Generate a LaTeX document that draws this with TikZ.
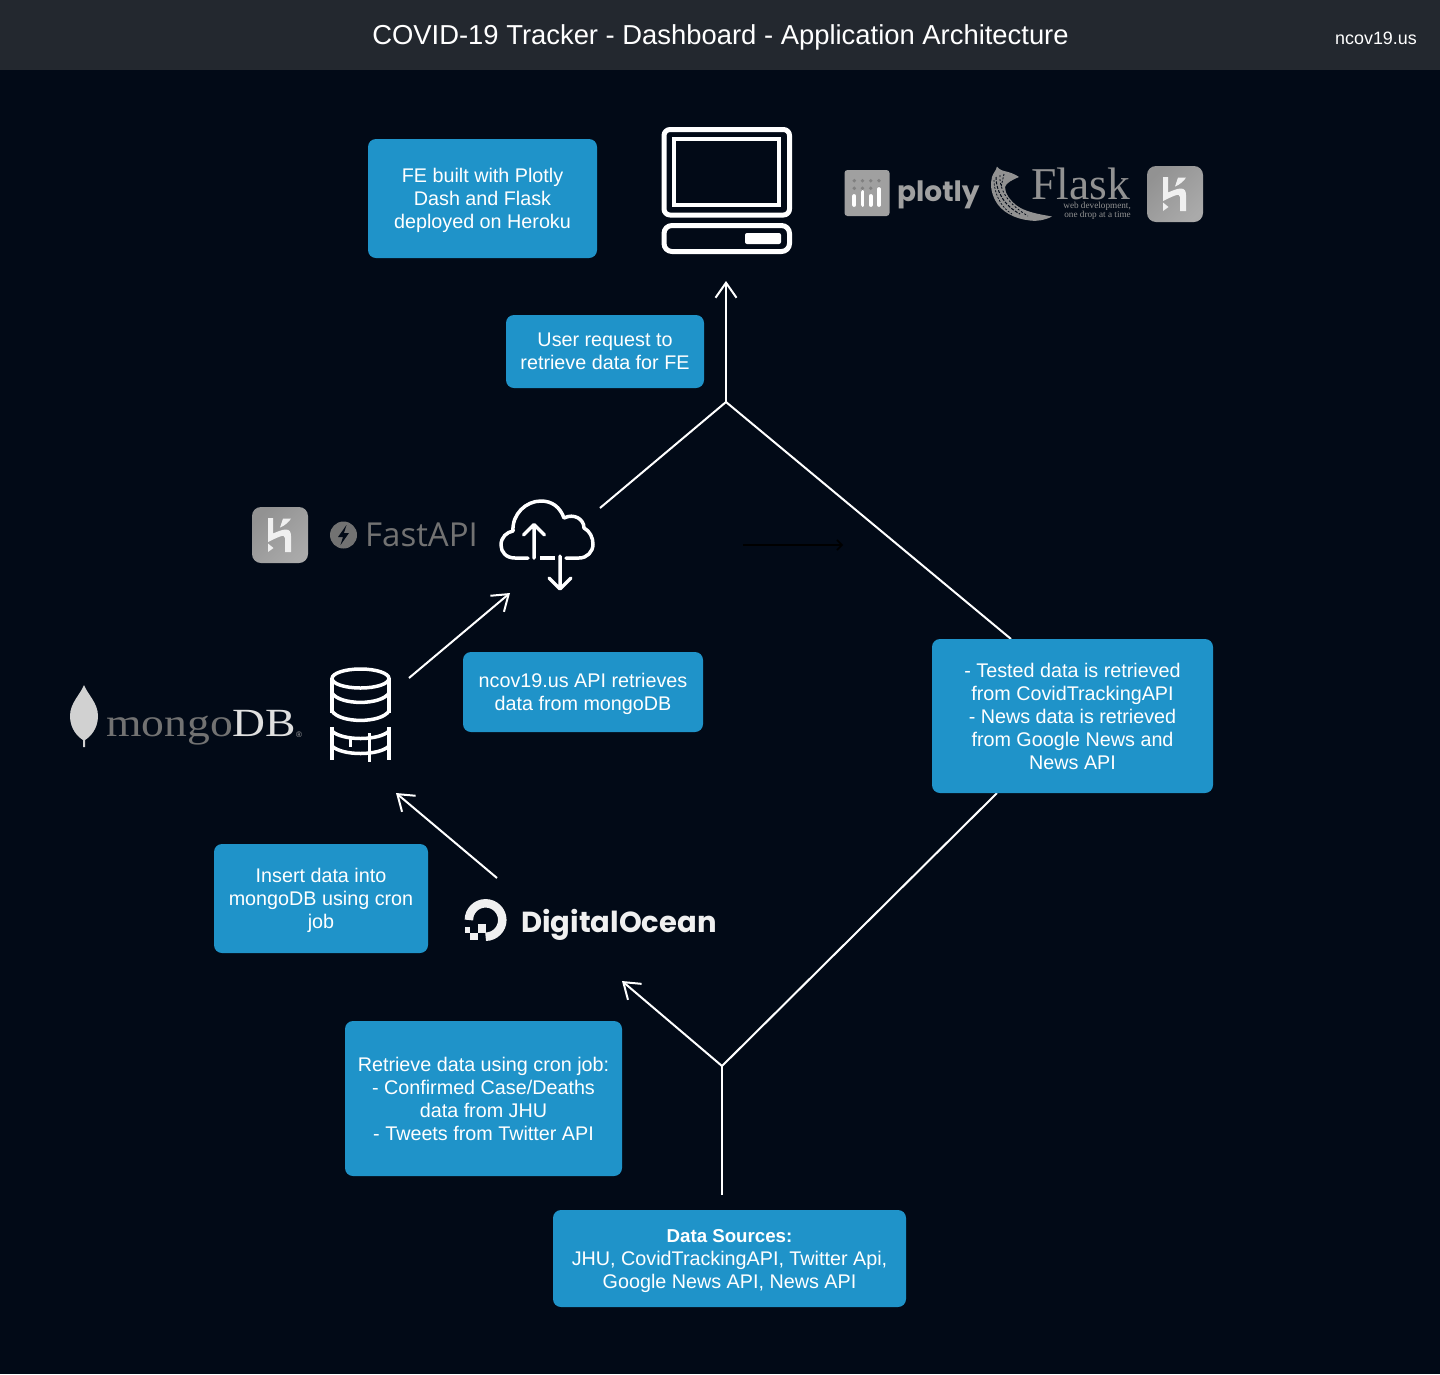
\documentclass[tikz,border=0pt]{standalone}
\usepackage{fontspec}
\setmainfont{Liberation Sans}
\newfontfamily\logoserif{Liberation Serif}
\newfontfamily\mongofont{Liberation Serif}[FakeStretch=1.14]
\newfontfamily\logosans{Open Sans}
\newfontfamily\logopop{Poppins}
\usetikzlibrary{arrows.meta,shapes.geometric}
\definecolor{pagebg}{HTML}{020A17}
\definecolor{headbg}{HTML}{23282F}
\definecolor{boxblue}{HTML}{1F93C9}
\definecolor{logogray}{HTML}{929292}
\definecolor{logosoft}{HTML}{A0A0A0}
\definecolor{logodim}{HTML}{727272}
\tikzset{
  infobox/.style={fill=boxblue,rounded corners=8pt,text=white,align=center,inner sep=0pt,
    font=\fontsize{19.75}{23}\selectfont},
  link/.style={draw=white,line width=2pt},
  arrowlink/.style={link,-{Straight Barb[length=15pt,width=21pt,line width=2pt]}},
  hiddenlink/.style={draw=black,line width=1.5pt,-{Straight Barb[length=5pt,width=10pt,line width=1.5pt]}},
  icon/.style={draw=white,line width=5pt,line join=round},
  thin icon/.style={draw=white,line width=4pt,line cap=butt},
  logotext/.style={inner sep=0pt,anchor=base west},
}
\newcommand{\fl}[1]{\rule{0pt}{\dimexpr14.4pt+#1pt+#1pt\relax}}
\newcommand{\herokulogo}[2]{%
  \begin{scope}[shift={(#1,#2)}]
    \shade[rounded corners=9pt,left color=logogray,right color=logosoft!90!white,shading angle=45]
      (0,0) rectangle (56,56);
    \fill[white!94!black] (16,11) -- (21,11) -- (21,26.5)
      .. controls (26,24.5) and (30,22.5) .. (34,22.5)
      .. controls (37.5,22.5) and (39,25) .. (39,29) -- (39,45) -- (33,45) -- (33,31)
      .. controls (33,28.5) and (31,28.5) .. (28,29.5)
      .. controls (24,31) and (20,33) .. (16,35) -- cycle;
    \fill[white!94!black] (31,11.5) -- (39,11.5) .. controls (37,15) and (33,18.5) .. (28,20.5) -- cycle;
    \fill[white!94!black] (16,36.5) -- (21.5,41) -- (16,45) -- cycle;
  \end{scope}}
\begin{document}
\begin{tikzpicture}[x=1pt,y=-1pt]
\useasboundingbox (0,0) rectangle (1440,1374);
\fill[pagebg] (0,0) rectangle (1440,1374);
\fill[headbg] (0,0) rectangle (1440,70);
\node[text=white,inner sep=0pt,font=\fontsize{27.4}{32}\selectfont] (title) at (720.5,37) {COVID-19 Tracker - Dashboard - Application Architecture};
\node[text=white,inner sep=0pt,font=\fontsize{17.9}{20}\selectfont] (site) at (1376,38) {ncov19.us};

% junctions and free ends
\coordinate (topJoin) at (726,402);
\coordinate (bottomJoin) at (722,1066);
\coordinate (laptopIn) at (726,281);
\coordinate (cloudOut) at (600,508);
\coordinate (cloudIn) at (510,593);
\coordinate (dbOut) at (409,678);
\coordinate (dbIn) at (396,793);
\coordinate (oceanOut) at (497,878);
\coordinate (oceanIn) at (622,981);
\coordinate (sourcesOut) at (722,1195);
\coordinate (testedTop) at (1011,639);
\coordinate (testedBottom) at (997,793);
\coordinate (hiddenStart) at (743,545);
\coordinate (hiddenEnd) at (843,545);

\draw[hiddenlink] (hiddenStart) -- (hiddenEnd);
\draw[arrowlink] (topJoin) -- (laptopIn);
\draw[link] (cloudOut) -- (topJoin);
\draw[link] (topJoin) -- (testedTop);
\draw[link] (testedBottom) -- (bottomJoin);
\draw[link] (sourcesOut) -- (bottomJoin);
\draw[arrowlink] (bottomJoin) -- (oceanIn);
\draw[arrowlink] (oceanOut) -- (dbIn);
\draw[arrowlink] (dbOut) -- (cloudIn);

% boxes
\node[infobox,minimum width=229pt,minimum height=119pt] (fe) at (482.5,198.5) {\fl{1.5}FE built with Plotly\\Dash and Flask\\deployed on Heroku};
\node[infobox,minimum width=198pt,minimum height=73pt] (user) at (605,351.5) {User request to\\retrieve data for FE};
\node[infobox,minimum width=240pt,minimum height=80pt] (api) at (583,692) {\fl{1.5}ncov19.us API retrieves\\data from mongoDB};
\node[infobox,minimum width=281pt,minimum height=154pt] (tested) at (1072.5,716) {- Tested data is retrieved\\from CovidTrackingAPI\\- News data is retrieved\\from Google News and\\News API};
\node[infobox,minimum width=214pt,minimum height=109pt] (insert) at (321,898.5) {\fl{2}Insert data into\\mongoDB using cron\\job};
\node[infobox,minimum width=277pt,minimum height=155pt] (retrieve) at (483.5,1098.5) {Retrieve data using cron job:\\- Confirmed Case/Deaths\\data from JHU\\- Tweets from Twitter API};
\node[infobox,minimum width=353pt,minimum height=97pt] (sources) at (729.5,1258.5) {\fl{2}{\fontsize{18.7}{23}\selectfont\textbf{Data Sources:}}\\JHU, CovidTrackingAPI, Twitter Api,\\Google News API, News API};

% laptop
\draw[icon,rounded corners=6pt] (664,129.5) rectangle (789.5,215);
\draw[thin icon] (674,139) rectangle (779,205);
\draw[icon,rounded corners=8pt] (664,225.5) rectangle (789.5,251.5);
\fill[white,rounded corners=2pt] (745,233) rectangle (781,244);

% plotly
\fill[logosoft,rounded corners=3pt] (844.5,170) rectangle (889.5,216);
\foreach \px in {854.3,862.5,870.7,878.9} \foreach \py in {180.7,188.3} \fill[logodim!90!white] (\px,\py) circle (1.9pt);
\foreach \px/\top in {854.3/196,862.5/192,870.7/196,878.9/189} \draw[white,line width=3.8pt,line cap=round] (\px,\top) -- (\px,205);
\node[logotext,text=logosoft,font=\logopop\bfseries\fontsize{28}{30}\selectfont] (plotlytext) at (897,201) {plotly};

% flask
\fill[logogray] (997,166.5) .. controls (999,170) and (1004,171) .. (1008,172)
  .. controls (1012,173) and (1016,175) .. (1019,177)
  .. controls (1012,180) and (1006,183) .. (1005,187)
  .. controls (1005,194) and (1010,200) .. (1016,205)
  .. controls (1025,212) and (1038,214) .. (1052,216.5)
  .. controls (1045,220) and (1038,221.5) .. (1030,220.5)
  .. controls (1015,219) and (1001,212) .. (995,200)
  .. controls (991,192) and (990,184) .. (992,177)
  .. controls (993,173) and (996,171) .. (997,166.5) -- cycle;
\draw[pagebg,line width=1pt,dash pattern=on 3pt off 1.5pt] (996,177) .. controls (996,190) and (1003,205) .. (1020,214);
\draw[pagebg,line width=.8pt,dash pattern=on 2pt off 2pt] (1000,175) .. controls (999,188) and (1006,203) .. (1028,216);
\draw[pagebg,line width=.8pt,dash pattern=on 2pt off 1.5pt] (1004,174) -- (1001,187);
\draw[pagebg,line width=.7pt,dash pattern=on 2pt off 1.5pt] (994,180) .. controls (994,192) and (1000,207) .. (1012,214);
\node[logotext,text=logogray,font=\logoserif\fontsize{45.5}{46}\selectfont] (flasktext) at (1031,199) {Flask};
\node[inner sep=0pt,text=logogray,align=right,anchor=north east,font=\logoserif\fontsize{9.2}{9}\selectfont] (flasksub) at (1131,202) {web development,\\one drop at a time};

\herokulogo{1147}{166}
\herokulogo{252}{507}

% fastapi
\fill[logodim] (343.5,535) circle (13.5pt);
\fill[pagebg] (346.5,525) -- (338,537) -- (343,537) -- (340.5,545) -- (349,533) -- (344,533) -- cycle;
\node[logotext,text=logodim,font=\logosans\fontsize{33}{33}\selectfont] (fastapitext) at (365,546) {FastAPI};

% cloud
\draw[draw=white,line width=3.5pt,line cap=round,line join=round]
  (528,558) -- (515,558) .. controls (506,558) and (501,552) .. (501,545)
  .. controls (501,537) and (507,532) .. (513,531)
  .. controls (512,514) and (526,501) .. (541,501)
  .. controls (552,501) and (560,507) .. (564,518)
  .. controls (574,513) and (584,519) .. (584,528)
  .. controls (590,531) and (593,538) .. (593,544)
  .. controls (593,552) and (587,558) .. (579,558) -- (566,558);
\draw[draw=white,line width=3.5pt] (540,558) -- (555,558);
\draw[draw=white,line width=3.5pt,line cap=round,line join=round] (534,558) -- (534,525) (523.5,535) -- (534,524.5) -- (544.5,535);
\draw[draw=white,line width=3.5pt,line cap=round,line join=round] (560,556) -- (560,588) (549,578) -- (560,589) -- (571,578);

% mongo
\fill[white!82!black] (84,685) .. controls (88,695) and (98,703) .. (98,716)
  .. controls (98,729) and (90,737) .. (85,740) -- (85,747) -- (83,747) -- (83,740)
  .. controls (78,737) and (70,729) .. (70,716) .. controls (70,703) and (80,695) .. (84,685) -- cycle;
\node[logotext,text=logodim,font=\mongofont\fontsize{40}{40}\selectfont] (mongotext) at (106,736) {mongo\textcolor{white!88!black}{DB}};
\node[logotext,text=white!65!black,font=\fontsize{8}{8}\selectfont] (mongoreg) at (296,737) {®};

% database
\begin{scope}[draw=white,line width=3.5pt]
  \draw (360.5,678.5) ellipse [x radius=28.5pt,y radius=9.5pt];
  \draw (332,678) -- (332,713) (389,678) -- (389,713);
  \draw (332,693) .. controls (340,705.5) and (381,705.5) .. (389,693);
  \draw (332,711) .. controls (340,723.5) and (381,723.5) .. (389,711);
  \draw (332,727) -- (332,760) (389,727) -- (389,760);
  \draw (332,731) .. controls (342,741) and (379,741) .. (389,731);
  \draw (332,746) .. controls (342,756) and (379,756) .. (389,746);
  \draw (350.7,737) -- (350.7,747) (369.3,733) -- (369.3,762);
\end{scope}

% digitalocean
\draw[draw=white!94!black,line width=8.5pt] (468.9,920) arc[start angle=180,end angle=-90,radius=16.7pt];
\fill[white!94!black] (477.5,924) rectangle (485.5,932.5);
\fill[white!94!black] (470,932.5) rectangle (477.5,939.5);
\fill[white!94!black] (465,927) rectangle (470,932.5);
\node[logotext,text=white!94!black,font=\logopop\bfseries\fontsize{29}{30}\selectfont] (oceantext) at (521,932.5) {DigitalOcean};
\end{tikzpicture}
\end{document}
